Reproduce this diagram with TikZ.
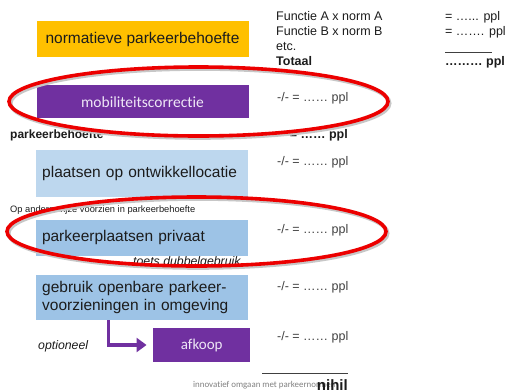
\documentclass[tikz,border=0pt]{standalone}
\usepackage{fontspec}
\setmainfont{Liberation Sans}
\newfontfamily\calibri[Ligatures=NoCommon]{Carlito}
\usetikzlibrary{arrows.meta,shapes.geometric}
\definecolor{normfill}{RGB}{255,192,0}
\definecolor{mobfill}{RGB}{112,48,160}
\definecolor{plaatsfill}{RGB}{189,215,238}
\definecolor{privfill}{RGB}{157,195,230}
\definecolor{ringred}{RGB}{236,0,0}
\definecolor{tekst}{RGB}{28,28,28}
\definecolor{grijs}{RGB}{64,64,64}
\definecolor{voetgrijs}{RGB}{128,128,128}
\definecolor{mobtekst}{RGB}{238,230,246}
\tikzset{
  blok/.style  ={minimum width=212, align=center, text=tekst, inner sep=0, font=\fontsize{15.5}{18.5}\selectfont},
  links/.style ={blok, text width=200, inner xsep=6, align=left},
  paars/.style ={minimum width=212, inner sep=0, fill=mobfill, text=mobtekst, font=\calibri\fontsize{15.5}{18}\selectfont},
  reken/.style ={anchor=base west, inner sep=0, text=grijs, font=\fontsize{12.5}{15}\selectfont},
  vet/.style   ={anchor=base west, inner sep=0, text=tekst, font=\bfseries\fontsize{12.5}{15}\selectfont},
  schuin/.style={anchor=base west, inner sep=0, text=tekst, font=\itshape\fontsize{12.3}{15}\selectfont},
  ring/.style  ={ellipse, draw=ringred, line width=3.6, inner sep=0, minimum width=379, minimum height=69,
                 preaction={draw=black!22, line width=4, transform canvas={xshift=1.5pt, yshift=-1.8pt}}},
  pijl/.style  ={-{Triangle[length=10pt, width=14pt]}, draw=mobfill, line width=3.3},
  streep/.style={line width=0.8, draw=grijs}
}

\begin{document}
\begin{tikzpicture}[x=1pt, y=-1pt]
  \useasboundingbox (0,0) rectangle (506,389);
  \node[blok, fill=normfill, minimum height=36.6] (norm) at (142.5,39) {normatieve parkeerbehoefte};
  \node[paars, minimum height=33.3] (mob) at (142.5,101.7) {mobiliteitscorrectie};
  \node[links, fill=plaatsfill, minimum height=47.3] (plaats) at (142.2,173.7) {plaatsen op ontwikkellocatie};
  \node[links, fill=privfill, minimum height=35.7] (priv) at (142,237.9) {parkeerplaatsen privaat};
  \node[links, fill=privfill, minimum height=45] (gebruik) at (142.2,297.5) {gebruik openbare parkeer-\\voorzieningen in omgeving};
  \node[paars, minimum width=96.7, minimum height=33.4, font=\calibri\fontsize{15}{18}\selectfont] (afkoop) at (201.7,345) {afkoop};
  \draw[pijl, shorten >=6.6] ([xshift=-33.9]gebruik.south) |- (afkoop.west);

  \node[reken, text=tekst] (fA) at (276,20) {Functie A x norm A};
  \node[reken, text=tekst] (fB) at (276,35.7) {Functie B x norm B};
  \node[reken, text=tekst] (etc) at (276,50.5) {etc.};
  \node[vet] (tot) at (276,65) {Totaal};
  \node[reken, text=tekst] (vA) at (445,20) {= …... ppl};
  \node[reken, text=tekst] (vB) at (445,35.7) {= ……. ppl};
  \node[vet] (vT) at (445,65) {……… ppl};
  \draw[streep] ([yshift=-16.6]vB.base west) -- ++(47,0);

  \node[reken] (cA) at (277,101) {-/- = …… ppl};
  \node[vet, font=\bfseries\fontsize{12}{15}\selectfont] (pb) at (10,138) {parkeerbehoefte};
  \node[vet, anchor=base east] (pbv) at (348,138) {= …… ppl};
  \node[reken] (cB) at (277,165) {-/- = …… ppl};
  \node[reken, text=tekst, font=\fontsize{9.3}{11}\selectfont] (ander) at (10,212) {Op andere wijze voorzien in parkeerbehoefte};
  \node[reken] (cC) at (277,233) {-/- = …… ppl};
  \node[schuin] (toets) at (133,265) {toets dubbelgebruik};
  \node[reken] (cD) at (277,290) {-/- = …… ppl};
  \node[reken] (cE) at (277,340.7) {-/- = …… ppl};
  \node[schuin] (opt) at (38,349) {optioneel};

  \node[reken, text=voetgrijs, font=\calibri\fontsize{8.9}{11}\selectfont] (voet) at (193,387) {innovatief omgaan met parkeernormen};
  \node[vet, anchor=base east, font=\bfseries\fontsize{15}{18}\selectfont] (nihil) at (348,390) {nihil};
  \draw[streep, line width=1] (262,373.3) -- (348,373.3);

  \node[ring] (ringA) at (198.5,101.5) {};
  \node[ring] (ringB) at (196.5,231.5) {};
\end{tikzpicture}
\end{document}
